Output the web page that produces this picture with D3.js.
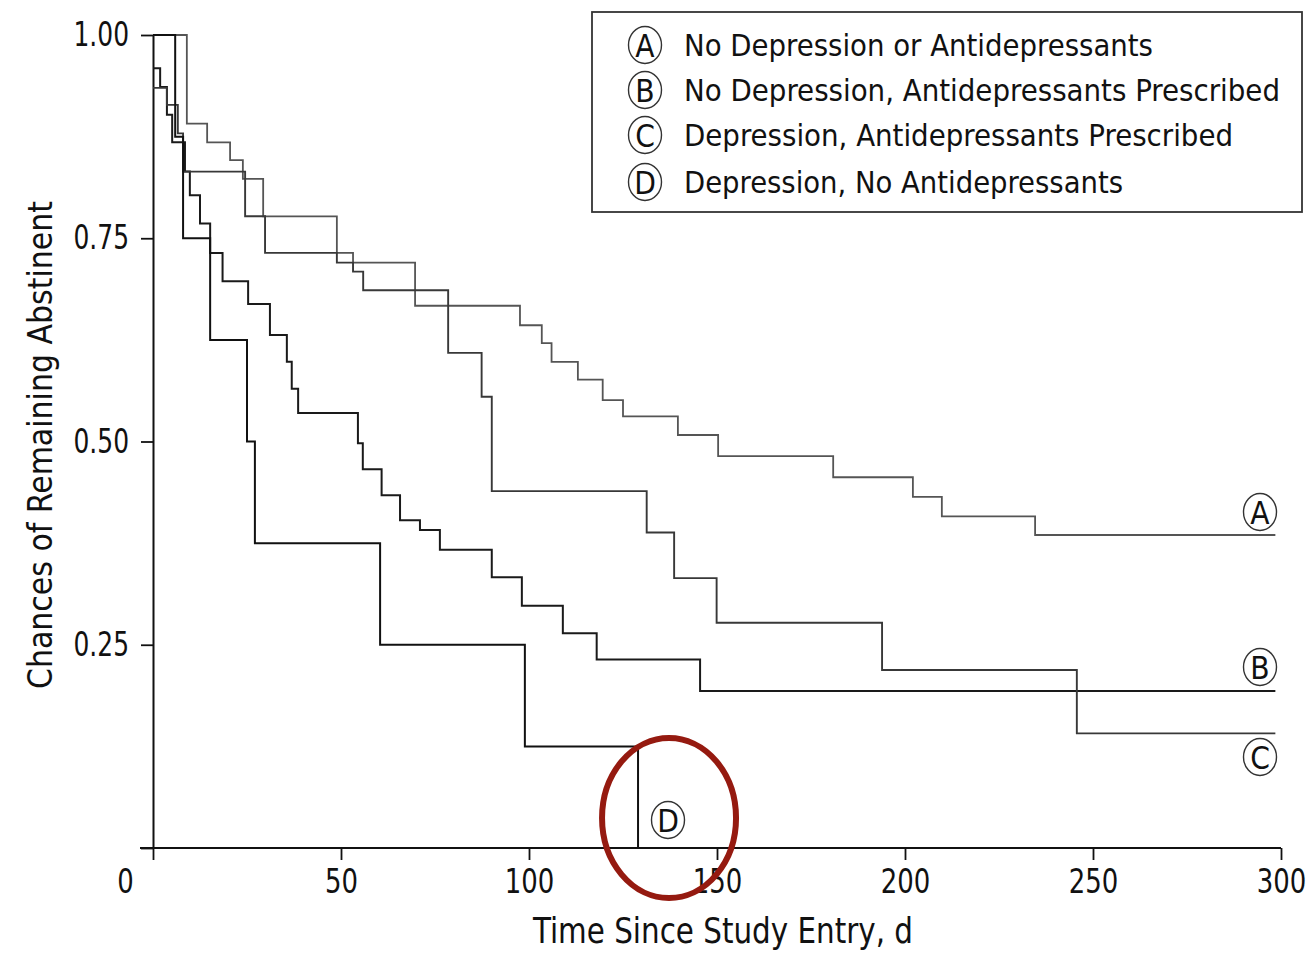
<!DOCTYPE html>
<html>
<head>
<meta charset="utf-8">
<script src="https://cdn.jsdelivr.net/npm/d3@7"></script>
<style>
  html, body { margin: 0; padding: 0; background: #fff; }
  svg { display: block; }
  text { font-family: "Liberation Sans Narrow", "Arial Narrow", "DejaVu Sans Condensed", sans-serif; fill: #111; }
</style>
</head>
<body>
<svg id="chart" width="1312" height="967"></svg>
<script>
// Kaplan-Meier step data: event times (days) and survival after each step
const timesA = [0, 9.0, 14.4, 20.5, 23.9, 29.3, 48.9, 53.2, 69.7, 97.6, 103.4, 106.0, 113.0, 119.6, 125.0, 139.6, 150.3, 180.9, 202.1, 209.8, 234.6];
const survA  = [1.0, 0.891, 0.868, 0.846, 0.823, 0.777, 0.732, 0.720, 0.667, 0.643, 0.621, 0.598, 0.576, 0.551, 0.531, 0.508, 0.482, 0.456, 0.432, 0.408, 0.385];

const timesB = [0, 1.9, 3.7, 5.1, 8.5, 9.8, 12.5, 15.2, 18.5, 25.3, 31.1, 35.6, 36.9, 38.6, 54.5, 55.8, 60.8, 65.7, 71.0, 76.3, 90.1, 98.1, 109.0, 118.0, 145.5];
const survB  = [0.959, 0.936, 0.902, 0.868, 0.832, 0.803, 0.768, 0.732, 0.697, 0.669, 0.631, 0.598, 0.565, 0.535, 0.498, 0.466, 0.434, 0.403, 0.391, 0.367, 0.333, 0.298, 0.264, 0.232, 0.193];

const timesC = [0, 3.7, 6.6, 8.0, 24.5, 29.8, 48.9, 53.2, 55.9, 78.5, 87.4, 90.1, 131.3, 138.6, 149.9, 193.9, 245.7];
const survC  = [0.935, 0.914, 0.879, 0.832, 0.777, 0.732, 0.720, 0.709, 0.686, 0.609, 0.555, 0.439, 0.388, 0.332, 0.277, 0.219, 0.141];

const timesD = [0, 5.9, 8.0, 15.2, 25.0, 27.1, 60.4, 98.9, 129.0];
const survD  = [1.0, 0.875, 0.75, 0.625, 0.5, 0.375, 0.25, 0.125, 0];

const followUpEnd = 298.5;

const groupKeys = ["A", "B", "C", "D"];
const groupNames = [
  "No Depression or Antidepressants",
  "No Depression, Antidepressants Prescribed",
  "Depression, Antidepressants Prescribed",
  "Depression, No Antidepressants"
];
const xTicks = [0, 50, 100, 150, 200, 250, 300];
const yTicks = [0, 0.25, 0.5, 0.75, 1.0];

const series = [
  { key: "A", times: timesA, surv: survA, color: "#555555", width: 1.8 },
  { key: "B", times: timesB, surv: survB, color: "#1a1a1a", width: 2.0 },
  { key: "C", times: timesC, surv: survC, color: "#383838", width: 1.9 },
  { key: "D", times: timesD, surv: survD, color: "#111111", width: 2.0 }
];

const svg = d3.select("#chart");
const x = d3.scaleLinear().domain([0, 300]).range([153, 1281]);
const y = d3.scaleLinear().domain([0, 1]).range([848, 35]);

// Narrow numeric labels: width follows the character count
const labelWidth = s => s.replace(/[^0-9]/g, "").length * 16.5 + (s.includes(".") ? 6 : 0);

// Axes
const xAxis = svg.append("g")
  .attr("transform", `translate(0,${y(0)})`)
  .call(d3.axisBottom(x).tickValues(xTicks).tickFormat(d3.format("d")).tickSize(12).tickSizeOuter(0).tickPadding(10));
xAxis.select(".domain").attr("d", `M140,0H${x(300)}`).attr("stroke", "#111").attr("stroke-width", 2);
xAxis.selectAll(".tick line").attr("stroke", "#111").attr("stroke-width", 1.8);
xAxis.selectAll(".tick text").attr("font-size", 33).attr("font-family", null).attr("fill", "#111")
  .attr("dx", d => d === 0 ? -28 : 0)
  .attr("textLength", function () { return labelWidth(this.textContent); })
  .attr("lengthAdjust", "spacingAndGlyphs");

const yAxis = svg.append("g")
  .attr("transform", `translate(${x(0)},0)`)
  .call(d3.axisLeft(y).tickValues(yTicks).tickFormat(d => d === 0 ? "" : d3.format(".2f")(d)).tickSize(12).tickSizeOuter(0).tickPadding(12));
yAxis.select(".domain").attr("stroke", "#111").attr("stroke-width", 2);
yAxis.selectAll(".tick line").attr("stroke", "#111").attr("stroke-width", 1.8);
yAxis.selectAll(".tick text").attr("font-size", 33).attr("font-family", null).attr("fill", "#111")
  .filter(function () { return this.textContent !== ""; })
  .attr("textLength", function () { return labelWidth(this.textContent); })
  .attr("lengthAdjust", "spacingAndGlyphs");

// Axis titles
svg.append("text")
  .attr("transform", `translate(52,445) rotate(-90)`)
  .attr("text-anchor", "middle")
  .attr("font-size", 34)
  .attr("textLength", 488).attr("lengthAdjust", "spacingAndGlyphs")
  .text("Chances of Remaining Abstinent");

svg.append("text")
  .attr("x", 723).attr("y", 943)
  .attr("text-anchor", "middle")
  .attr("font-size", 35)
  .attr("textLength", 380).attr("lengthAdjust", "spacingAndGlyphs")
  .text("Time Since Study Entry, d");

// Survival curves
const line = d3.line().x(d => x(d[0])).y(d => y(d[1])).curve(d3.curveStepAfter);
series.forEach(s => {
  const pts = s.times.map((t, i) => [t, s.surv[i]]);
  pts.push([followUpEnd, s.surv[s.surv.length - 1]]);
  svg.append("path")
    .datum(pts)
    .attr("fill", "none")
    .attr("stroke", s.color)
    .attr("stroke-width", s.width)
    .attr("d", line);
});

// Circled letter helper
function circled(g, cx, cy, letter, size) {
  g.append("ellipse").attr("cx", cx).attr("cy", cy).attr("rx", size * 0.5).attr("ry", size * 0.56)
    .attr("fill", "#fff").attr("stroke", "#333").attr("stroke-width", 1.4);
  g.append("text").attr("x", cx).attr("y", cy + size * 0.35).attr("text-anchor", "middle")
    .attr("font-size", size * 0.95).text(letter);
}

// End-of-curve labels
const endLabels = svg.append("g");
circled(endLabels, 1260, 512, "A", 33);
circled(endLabels, 1260, 667, "B", 33);
circled(endLabels, 1260, 757, "C", 33);
circled(endLabels, 668, 820, "D", 33);

// Legend
const legend = svg.append("g");
legend.append("rect").attr("x", 592).attr("y", 12).attr("width", 710).attr("height", 200)
  .attr("fill", "#fff").attr("stroke", "#333").attr("stroke-width", 1.8);
const legendY = [45, 90, 135, 182];
const legendWidths = [469, 596, 549, 439];
groupKeys.forEach((k, i) => {
  circled(legend, 645, legendY[i], k, 33);
  legend.append("text")
    .attr("x", 684).attr("y", legendY[i] + 11)
    .attr("font-size", 31)
    .attr("textLength", legendWidths[i]).attr("lengthAdjust", "spacingAndGlyphs")
    .text(groupNames[i]);
});

// Highlight ring around the point where curve D reaches zero
svg.append("ellipse")
  .attr("cx", x(timesD[timesD.length - 1]) + 31).attr("cy", 818)
  .attr("rx", 67).attr("ry", 80)
  .attr("fill", "none").attr("stroke", "#951a10").attr("stroke-width", 6);
</script>
</body>
</html>
